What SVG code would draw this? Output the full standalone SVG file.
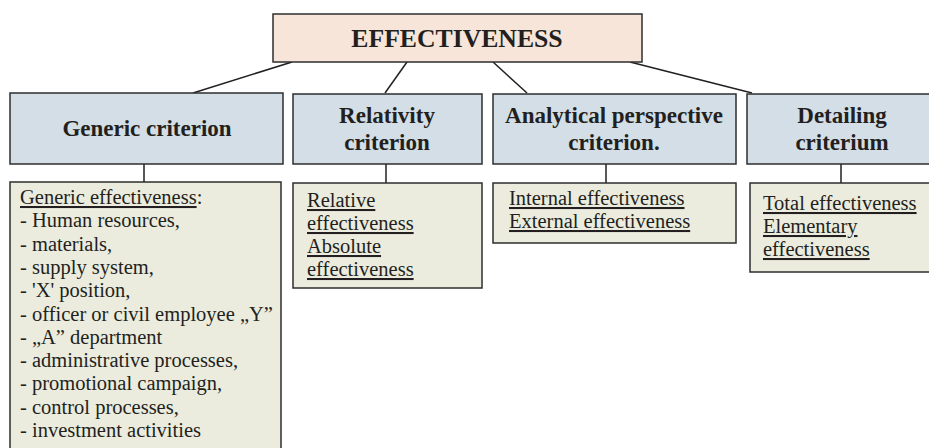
<svg xmlns="http://www.w3.org/2000/svg" width="929" height="448" viewBox="0 0 929 448">
  <style>
    .box { stroke: #2e2e2e; stroke-width: 1.5; }
    .root { fill: #f6e5d8; }
    .crit { fill: #d3dee6; }
    .item { fill: #ebecde; }
    .head { font-family: "Liberation Serif", "Times New Roman", serif; font-weight: bold; fill: #231f20; text-anchor: middle; }
    .body { font-family: "Liberation Serif", "Times New Roman", serif; font-size: 20.5px; fill: #231f20; }
    .u { text-decoration: underline; }
    .link { stroke: #231f20; stroke-width: 1.5; fill: none; }
  </style>

  <!-- connectors -->
  <g id="connectors">
    <line class="link" x1="292" y1="62" x2="193" y2="93"/>
    <line class="link" x1="407" y1="62" x2="385" y2="93"/>
    <line class="link" x1="493" y1="62" x2="527" y2="93"/>
    <line class="link" x1="630" y1="62" x2="752" y2="93"/>
    <line class="link" x1="144" y1="164" x2="144" y2="182"/>
    <line class="link" x1="386" y1="164" x2="386" y2="183"/>
    <line class="link" x1="606" y1="164" x2="606" y2="183"/>
    <line class="link" x1="841" y1="164" x2="841" y2="183"/>
  </g>

  <!-- root -->
  <g id="effectiveness">
    <rect class="box root" x="273" y="14" width="369" height="48"/>
    <text class="head" x="457" y="47" font-size="25.7">EFFECTIVENESS</text>
  </g>

  <!-- criteria -->
  <g id="generic-criterion">
    <rect class="box crit" x="10" y="93" width="273" height="71"/>
    <text class="head" x="147" y="136" font-size="23">Generic criterion</text>
  </g>
  <g id="relativity-criterion">
    <rect class="box crit" x="293" y="94" width="189" height="70"/>
    <text class="head" x="387" y="123" font-size="23">Relativity</text>
    <text class="head" x="387" y="150" font-size="23">criterion</text>
  </g>
  <g id="analytical-criterion">
    <rect class="box crit" x="493" y="94" width="243" height="70"/>
    <text class="head" x="614" y="123" font-size="23">Analytical perspective</text>
    <text class="head" x="614" y="150" font-size="23">criterion.</text>
  </g>
  <g id="detailing-criterium">
    <rect class="box crit" x="747" y="94" width="190" height="70"/>
    <text class="head" x="842" y="123" font-size="23">Detailing</text>
    <text class="head" x="842" y="150" font-size="23">criterium</text>
  </g>

  <!-- content boxes -->
  <g id="generic-effectiveness">
    <rect class="box item" x="10" y="182" width="271" height="270"/>
    <text class="body" x="20" y="204"><tspan class="u">Generic effectiveness</tspan>:</text>
    <text class="body" x="20" y="227.3">- Human resources,</text>
    <text class="body" x="20" y="250.6">- materials,</text>
    <text class="body" x="20" y="273.9">- supply system,</text>
    <text class="body" x="20" y="297.2">- 'X' position,</text>
    <text class="body" x="20" y="320.5">- officer or civil employee „Y”</text>
    <text class="body" x="20" y="343.8">- „A” department</text>
    <text class="body" x="20" y="367.1">- administrative processes,</text>
    <text class="body" x="20" y="390.4">- promotional campaign,</text>
    <text class="body" x="20" y="413.7">- control processes,</text>
    <text class="body" x="20" y="437">- investment activities</text>
  </g>
  <g id="relativity-items">
    <rect class="box item" x="293" y="183" width="189" height="105"/>
    <text class="body u" x="307" y="207">Relative</text>
    <text class="body u" x="307" y="230">effectiveness</text>
    <text class="body u" x="307" y="253">Absolute</text>
    <text class="body u" x="307" y="276">effectiveness</text>
  </g>
  <g id="analytical-items">
    <rect class="box item" x="493" y="183" width="243" height="60"/>
    <text class="body u" x="509" y="205">Internal effectiveness</text>
    <text class="body u" x="509" y="228">External effectiveness</text>
  </g>
  <g id="detailing-items">
    <rect class="box item" x="750" y="183" width="190" height="89"/>
    <text class="body u" x="763" y="210">Total effectiveness</text>
    <text class="body u" x="763" y="233">Elementary</text>
    <text class="body u" x="763" y="256">effectiveness</text>
  </g>
</svg>
